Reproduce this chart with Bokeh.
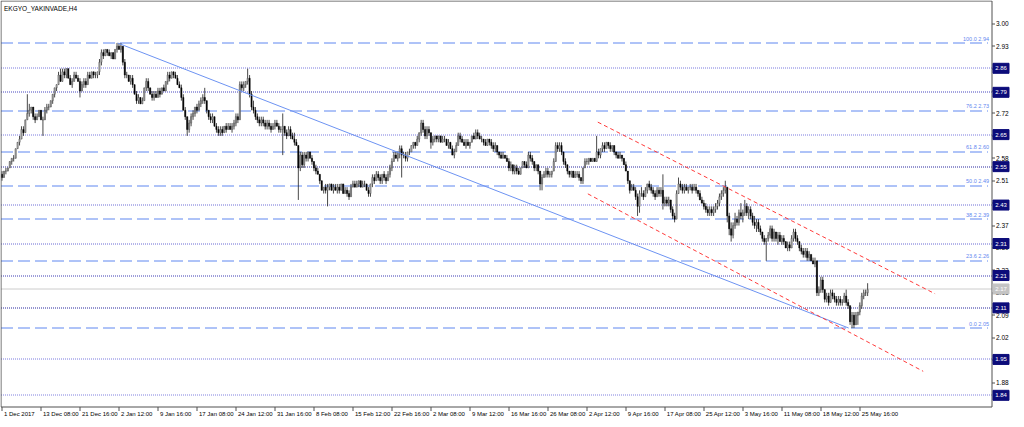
from bokeh.plotting import figure
from bokeh.models import Range1d
from bokeh.core.properties import value
from bokeh.embed import file_html
from bokeh.resources import INLINE
import math

# ---------------- data (prices in 0.01 TRY, one value per H4 bar) ----------------
opens = [
    253,252,254,254,255,257,258,258,261,263,264,267,266,270,272,273,274,271,270,271,
    273,270,270,273,274,274,276,278,280,281,284,282,285,284,286,283,281,282,284,283,
    282,279,281,282,281,284,283,285,284,284,285,288,291,290,292,291,290,291,289,292,
    293,292,293,288,284,284,282,283,281,278,276,277,275,276,280,282,280,278,277,278,
    277,279,278,280,279,282,284,283,285,284,283,281,280,277,273,271,267,269,271,272,
    274,273,275,276,277,276,273,271,270,271,268,267,266,267,266,268,267,268,267,268,
    269,271,270,281,280,281,282,283,278,274,273,271,270,269,270,269,268,269,268,267,
    268,269,268,267,267,268,266,265,267,265,264,263,262,255,259,256,259,258,260,258,
    257,255,254,253,251,248,249,248,249,250,248,249,248,249,248,250,247,248,247,246,
    249,250,249,250,251,249,250,250,248,247,250,252,251,253,252,251,253,252,251,253,
    255,257,259,258,260,261,259,259,258,260,260,262,263,262,264,266,269,267,265,267,
    266,263,264,265,264,265,263,264,264,262,263,261,259,260,262,265,264,263,262,263,
    262,263,265,264,266,265,264,264,263,262,264,263,262,261,262,260,259,258,259,258,
    257,255,256,254,255,254,253,255,257,256,255,259,258,257,255,256,254,250,252,253,
    254,253,253,254,257,262,261,262,260,257,256,254,253,254,252,253,253,252,251,255,
    257,257,258,257,258,257,260,259,261,262,261,263,262,261,262,260,259,258,259,258,
    256,254,251,248,249,248,246,243,247,247,246,248,250,249,248,247,246,248,247,248,
    244,245,244,245,242,240,239,247,250,249,248,249,248,249,249,248,249,248,247,245,
    244,243,242,241,242,241,242,243,244,246,247,248,249,240,236,234,237,239,238,241,
    240,241,243,241,242,240,238,237,238,236,235,233,232,233,234,236,233,235,233,234,
    232,233,232,230,231,230,233,235,233,232,230,229,228,229,227,228,226,225,226,216,
    217,220,217,214,215,213,216,215,214,213,214,213,213,215,213,212,207,209,206,209,
    210,212,215,216,216,
]
highs = [
    254,254,255,255,257,258,259,261,263,265,268,268,270,278,275,274,274,272,272,273,
    273,271,274,275,275,276,278,280,281,285,286,286,286,286,286,284,283,285,285,284,
    283,282,283,283,285,285,285,285,285,285,289,292,292,292,292,292,291,291,292,294,
    294,294,293,289,285,284,284,284,281,279,278,277,277,280,283,283,280,279,279,279,
    280,280,280,281,282,285,285,285,285,285,284,282,281,278,274,271,270,272,273,274,
    275,276,277,278,280,276,273,272,272,271,269,268,268,268,268,269,269,269,269,270,
    272,272,282,282,282,282,286,284,279,276,274,272,271,271,271,270,270,270,269,269,
    270,270,269,268,272,268,267,268,268,266,266,264,262,260,260,260,260,260,260,259,
    257,256,255,253,251,249,250,250,250,250,250,250,250,250,250,250,249,249,248,250,
    251,251,251,251,251,251,251,250,249,250,253,253,254,254,253,253,254,253,254,256,
    258,260,260,260,262,262,260,260,260,261,262,263,263,265,266,270,270,268,268,268,
    266,265,265,265,265,265,265,265,264,264,263,262,261,263,266,266,265,264,264,264,
    263,265,266,267,267,266,265,264,264,264,264,264,263,263,262,260,260,260,259,259,
    258,257,256,256,256,255,255,257,257,257,260,260,259,257,256,256,254,253,254,255,
    255,254,254,258,263,263,263,263,260,258,256,254,254,254,254,254,254,252,255,258,
    258,258,258,258,258,265,261,261,263,263,263,263,263,262,262,260,260,260,259,258,
    257,254,251,250,250,249,247,248,249,248,249,250,251,250,249,248,249,249,249,253,
    246,246,246,245,243,241,248,252,251,250,250,250,249,250,250,250,250,248,248,246,
    245,244,243,243,243,243,244,245,247,248,249,251,249,241,238,238,241,240,242,244,
    242,245,244,243,243,241,240,239,239,237,235,234,233,235,237,237,236,235,235,235,
    234,234,232,232,232,234,236,236,234,232,231,230,230,230,229,228,227,227,226,218,
    221,221,217,216,216,217,217,216,215,215,215,214,216,217,214,212,210,210,210,210,
    213,216,217,217,219,
]
lows = [
    251,252,253,254,255,256,257,258,261,262,264,265,266,270,271,272,270,269,270,271,
    270,265,270,272,273,274,275,277,279,281,282,282,283,283,283,281,280,282,283,282,
    277,279,280,280,281,283,283,283,283,283,284,287,289,290,290,290,289,289,289,291,
    292,291,287,283,283,282,281,280,278,275,275,275,275,276,279,279,278,276,276,277,
    277,277,278,279,279,281,282,283,283,283,281,280,276,273,270,265,266,268,270,271,
    272,273,274,275,275,272,270,269,269,268,266,265,265,265,266,266,267,267,266,267,
    268,269,270,279,279,280,281,277,273,272,270,269,268,268,268,267,267,267,266,267,
    267,268,266,266,259,265,264,265,264,264,262,262,245,254,255,255,257,257,258,256,
    254,253,253,250,248,247,247,243,248,248,247,248,247,247,248,247,247,246,245,246,
    249,249,249,249,249,249,249,248,246,246,249,250,251,251,250,250,251,250,251,252,
    254,257,258,257,258,252,258,257,257,259,260,261,261,262,263,265,266,264,264,265,
    261,262,263,263,263,263,263,263,262,261,261,259,258,260,262,263,263,262,261,262,
    261,263,264,264,264,264,263,262,262,262,262,261,260,260,259,258,258,258,258,257,
    254,254,253,253,253,253,253,255,255,255,255,257,256,254,254,253,248,248,252,252,
    252,252,252,254,257,260,260,259,256,255,253,252,252,252,252,252,251,250,250,255,
    256,256,257,257,257,257,258,258,260,260,261,261,260,260,259,258,258,258,257,256,
    254,250,247,248,248,245,240,241,246,245,246,247,248,247,246,245,246,246,246,242,
    243,243,243,241,239,238,239,247,248,247,247,248,247,248,247,248,247,246,245,244,
    242,241,240,240,240,240,241,242,243,245,246,247,238,234,232,233,236,237,237,239,
    238,240,240,239,239,237,236,235,235,234,232,231,226,232,233,232,232,232,231,232,
    231,231,230,229,229,230,232,232,231,229,228,227,227,226,226,226,225,224,215,215,
    216,216,213,213,212,213,214,213,212,212,212,212,213,212,211,206,205,205,206,206,
    209,211,214,215,215,
]
closes = [
    252,254,254,255,257,258,258,261,263,264,267,266,270,272,273,274,271,270,271,273,
    270,270,273,274,274,276,278,280,281,284,282,285,284,286,283,281,282,284,283,282,
    279,281,282,281,284,283,285,284,284,285,288,291,290,292,291,290,291,289,292,293,
    292,293,288,284,284,282,283,281,278,276,277,275,276,280,282,280,278,277,278,277,
    279,278,280,279,282,284,283,285,284,283,281,280,277,273,271,267,269,271,272,274,
    273,275,276,277,276,273,271,270,271,268,267,266,267,266,268,267,268,267,268,269,
    271,270,281,280,281,282,283,278,274,273,271,270,269,270,269,268,269,268,267,268,
    269,268,267,267,268,266,265,267,265,264,263,262,255,259,256,259,258,260,258,257,
    255,254,253,251,248,249,248,249,250,248,249,248,249,248,250,247,248,247,246,249,
    250,249,250,251,249,250,250,248,247,250,252,251,253,252,251,253,252,251,253,255,
    257,259,258,260,261,259,259,258,260,260,262,263,262,264,266,269,267,265,267,266,
    263,264,265,264,265,263,264,264,262,263,261,259,260,262,265,264,263,262,263,262,
    263,265,264,266,265,264,264,263,262,264,263,262,261,262,260,259,258,259,258,257,
    255,256,254,255,254,253,255,257,256,255,259,258,257,255,256,254,250,252,253,254,
    253,253,254,257,262,261,262,260,257,256,254,253,254,252,253,253,252,251,255,257,
    257,258,257,258,257,260,259,261,262,261,263,262,261,262,260,259,258,259,258,256,
    254,251,248,249,248,246,243,247,247,246,248,250,249,248,247,246,248,247,248,244,
    245,244,245,242,240,239,247,250,249,248,249,248,249,249,248,249,248,247,245,244,
    243,242,241,242,241,242,243,244,246,247,248,249,240,236,234,237,239,238,241,240,
    241,243,241,242,240,238,237,238,236,235,233,232,233,234,236,233,235,233,234,232,
    233,232,230,231,230,233,235,233,232,230,229,228,229,227,228,226,225,226,216,217,
    220,217,214,215,213,216,215,214,213,214,213,213,215,213,212,207,209,206,209,210,
    212,215,216,216,217,
]

date_labels = ["1 Dec 2017", "13 Dec 08:00", "21 Dec 16:00", "2 Jan 12:00", "9 Jan 16:00",
               "17 Jan 08:00", "24 Jan 12:00", "31 Jan 16:00", "8 Feb 08:00", "15 Feb 12:00",
               "22 Feb 16:00", "2 Mar 08:00", "9 Mar 12:00", "16 Mar 16:00", "26 Mar 08:00",
               "2 Apr 12:00", "9 Apr 16:00", "17 Apr 08:00", "25 Apr 12:00", "3 May 16:00",
               "11 May 08:00", "18 May 12:00", "25 May 16:00"]
date_label_bars = [0, 20, 40, 60, 80, 100, 120, 140, 160, 180, 200, 220, 240, 260, 280,
                   300, 320, 340, 360, 380, 400, 420, 440]

price_ticks = [3.00, 2.93, 2.86, 2.79, 2.72, 2.65, 2.58, 2.51, 2.44, 2.37, 2.30, 2.23,
               2.16, 2.09, 2.02, 1.95, 1.88]

fib_prices = [2.94, 2.728, 2.600, 2.495, 2.390, 2.260, 2.05]
fib_texts = ["100.0 2.94", "76.2 2.73", "61.8 2.60", "50.0 2.49", "38.2 2.39", "23.6 2.26", "0.0 2.05"]

level_prices = [2.861, 2.786, 2.654, 2.554, 2.434, 2.314, 2.214, 2.113, 1.952, 1.840]
level_texts = ["2.86", "2.79", "2.65", "2.55", "2.43", "2.31", "2.21", "2.11", "1.95", "1.84"]
current_price = 2.172
current_text = "2.17"

trend_x = [59.3, 434.3]
trend_y = [2.94, 2.05]
channel_up_x = [305.6, 478.6]
channel_up_y = [2.693, 2.157]
channel_lo_x = [300.5, 472.5]
channel_lo_y = [2.469, 1.915]

title_text = "EKGYO_YAKINVADE,H4"

# ---------------- layout / styles ----------------
W, H = 1016, 419
X0, X1 = -0.763, 520.36          # whole canvas, in bar units
Y0, Y1 = 1.7645, 3.0727          # whole canvas, in price units
PX = (X1 - X0) / W               # one pixel in bar units
PY = (Y1 - Y0) / H               # one pixel in price units


def snap_y(v):
    """move a horizontal line onto the centre of its pixel row (crisp 1px line)"""
    row = (Y1 - v) / PY
    return Y1 - (math.floor(row) + 0.5) * PY


def snap_x(v):
    col = (v - X0) / PX
    return X0 + (math.floor(col) + 0.5) * PX


XL, XR = snap_x(-0.254), snap_x(507.63)     # chart area edges (bars)
YB, YT = snap_y(1.8043), snap_y(3.0696)     # chart area edges (price)

FONT = value("Liberation Sans")
FIB_COLOR = "#5f87f0"
LEVEL_COLORS = ["#7a7ae0", "#4848c0", "#7a7ae0", "#2a2aa0", "#6e6ed8",
                "#6a6ad4", "#3c3cb4", "#2a2aa0", "#7a7ae0", "#8080e0"]
BOX_COLOR = "#0c0c7a"
FRAME = "#505050"

p = figure(width=W, height=H, x_range=Range1d(X0, X1), y_range=Range1d(Y0, Y1),
           output_backend="svg", toolbar_location=None,
           x_axis_type=None, y_axis_type=None,
           min_border_left=0, min_border_top=0, min_border_right=0, min_border_bottom=0,
           background_fill_color="white", border_fill_color="white",
           outline_line_color=None)

lv_s = [snap_y(v) for v in level_prices]
fb_s = [snap_y(v) for v in fib_prices]
cp_s = snap_y(current_price)

# horizontal levels
p.segment(x0=[XL] * len(lv_s), y0=lv_s, x1=[XR] * len(lv_s), y1=lv_s,
          line_color=LEVEL_COLORS, line_dash="1 1", line_width=1)
p.segment(x0=[XL] * len(fb_s), y0=fb_s, x1=[XR - 4 * PX] * len(fb_s), y1=fb_s,
          line_color=FIB_COLOR, line_dash="12 5", line_width=1)
p.segment(x0=[XL], y0=[cp_s], x1=[XR], y1=[cp_s], line_color="#cccccc", line_width=1)

# candles
xs = list(range(len(closes)))
o = [v / 100 for v in opens]
h = [v / 100 for v in highs]
l = [v / 100 for v in lows]
c = [v / 100 for v in closes]
p.segment(x0=xs, y0=l, x1=xs, y1=h, line_color="#1a1a1a", line_width=0.8)
inc = [i for i in xs if c[i] >= o[i]]
dec = [i for i in xs if c[i] < o[i]]
p.vbar(x=inc, width=0.6, top=[c[i] for i in inc], bottom=[o[i] for i in inc],
       fill_color="#bdbdbd", line_color="#404040", line_width=0.5)
p.vbar(x=dec, width=0.6, top=[o[i] for i in dec], bottom=[c[i] for i in dec],
       fill_color="black", line_color="black", line_width=0.5)

# trend line and channel
p.line(trend_x, trend_y, line_color="#6d93f2", line_width=1)
p.line(channel_up_x, channel_up_y, line_color="#ff3b3b", line_width=1, line_dash="4 3")
p.line(channel_lo_x, channel_lo_y, line_color="#ff3b3b", line_width=1, line_dash="4 3")

# chart frame
p.line([XL, XL, XR, XR], [YB, YT, YT, YB], line_color=FRAME, line_width=1)
p.line([XL, XR], [YB, YB], line_color=FRAME, line_width=1)

# price scale: ticks and labels
tk_s = [snap_y(t) for t in price_ticks]
p.segment(x0=[XR] * len(tk_s), y0=tk_s, x1=[XR + 3 * PX] * len(tk_s), y1=tk_s,
          line_color=FRAME, line_width=1)
p.text(x=[XR + 4 * PX] * len(price_ticks), y=price_ticks, text=["%.2f" % t for t in price_ticks],
       text_font=FONT, text_font_size="6.5px", text_color="black",
       text_align="left", text_baseline="middle")

# time scale: ticks and labels
db_s = [snap_x(b) for b in date_label_bars]
p.segment(x0=db_s, y0=[YB] * len(db_s), x1=db_s,
          y1=[YB - 4 * PY] * len(db_s), line_color=FRAME, line_width=1)
p.text(x=[b + 2 * PX for b in date_label_bars], y=[YB - 6.5 * PY] * len(date_label_bars), text=date_labels,
       text_font=FONT, text_font_size="6px", text_color="black",
       text_align="left", text_baseline="middle")

# fibonacci texts
p.text(x=[XR - 3 * PX] * len(fib_prices), y=[f + 1.5 * PY for f in fib_prices], text=fib_texts,
       text_font=FONT, text_font_size="5.5px", text_color=FIB_COLOR,
       text_align="right", text_baseline="bottom")

# price boxes on the scale
box_l = XR + 1 * PX
box_r = XR + 17 * PX
p.quad(left=[box_l] * len(level_prices), right=[box_r] * len(level_prices),
       top=[v + 5 * PY for v in level_prices], bottom=[v - 5 * PY for v in level_prices],
       fill_color=BOX_COLOR, line_color=BOX_COLOR)
p.text(x=[(box_l + box_r) / 2] * len(level_prices), y=level_prices, text=level_texts,
       text_font=FONT, text_font_size="6px", text_color="white",
       text_align="center", text_baseline="middle")
p.quad(left=[box_l], right=[box_r], top=[current_price + 5 * PY], bottom=[current_price - 5 * PY],
       fill_color="#c4c4c4", line_color="#c4c4c4")
p.text(x=[(box_l + box_r) / 2], y=[current_price], text=[current_text],
       text_font=FONT, text_font_size="6px", text_color="white",
       text_align="center", text_baseline="middle")

# title
p.text(x=[XL + 3 * PX], y=[YT - 7 * PY], text=[title_text],
       text_font=FONT, text_font_size="6.5px", text_color="black",
       text_align="left", text_baseline="middle")

open("out.html", "w").write(file_html(p, INLINE))
